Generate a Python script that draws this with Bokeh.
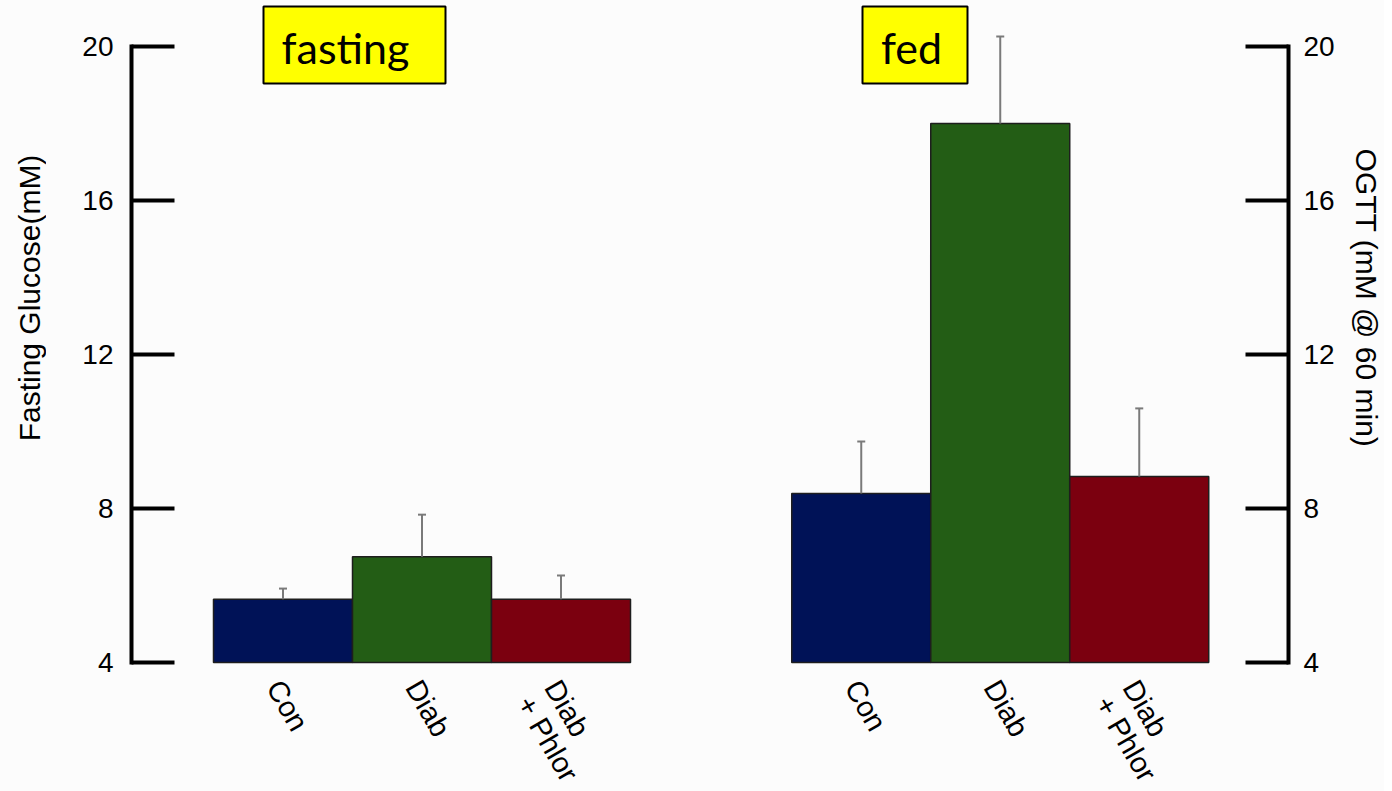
import math
from bokeh.plotting import figure
from bokeh.layouts import row
from bokeh.models import Range1d, LinearAxis, FixedTicker, Whisker, TeeHead, ColumnDataSource
from bokeh.core.properties import value
from bokeh.embed import file_html
from bokeh.resources import INLINE

# ---------------- data ----------------
categories = ["Con", "Diab", "Diab\n+ Phlor"]
bar_colors = ["#001257", "#235d15", "#7b000f"]
fasting_mean = [5.64, 6.75, 5.64]
fasting_err = [0.28, 1.09, 0.62]
fed_mean = [8.39, 18.0, 8.83]
fed_err = [1.35, 2.26, 1.77]
y_ticks = [4, 8, 12, 16, 20]
panel_titles = ["fasting", "fed"]
left_label = "Fasting Glucose(mM)"
right_label = "OGTT (mM @ 60 min)"

# ---------------- layout ----------------
TOTAL_W, H = 1384, 791
LEFT_W, RIGHT_W = 46, 44
MAIN_W = TOTAL_W - LEFT_W - RIGHT_W
FRAME_L, FRAME_R = 131, 1288          # page x of the two y axes
PX_PER_Y = 38.5
BAR_PX = 139.0
TICK20_Y = 46
TICK4_Y = 662
y_top = 20 + TICK20_Y / PX_PER_Y
y_bot = 4 - (H - TICK4_Y) / PX_PER_Y
x_start = 1 - (282.5 - FRAME_L) / BAR_PX
x_end = x_start + (FRAME_R - FRAME_L) / BAR_PX

def sx(px):
    return 1 + (px - 282.5) / BAR_PX

def sy(py):
    return 20 - (py - TICK20_Y) / PX_PER_Y

fasting_x = [1, 2, 3]
fed_x = [5.16, 6.16, 7.16]

bg = "#fcfcfc"
font = "Liberation Sans"

def side_fig(width, label, page_x0, cx, angle):
    f = figure(width=width, height=H, x_range=Range1d(page_x0, page_x0 + width),
               y_range=Range1d(H, 0), output_backend="svg", toolbar_location=None,
               x_axis_location=None, y_axis_location=None,
               min_border_left=0, min_border_right=0, min_border_top=0, min_border_bottom=0)
    f.background_fill_color = bg
    f.border_fill_color = bg
    f.outline_line_color = None
    f.grid.visible = False
    f.text(x=[cx], y=[297.5], text=[label], angle=angle, text_align="center",
           text_baseline="middle", text_font=value(font), text_font_size="30px",
           text_color="black")
    return f

p = figure(width=MAIN_W, height=H, x_range=Range1d(x_start, x_end), y_range=Range1d(y_bot, y_top),
           output_backend="svg", toolbar_location=None,
           x_axis_location=None, y_axis_location=None,
           min_border_left=FRAME_L - LEFT_W, min_border_right=LEFT_W + MAIN_W - FRAME_R,
           min_border_top=0, min_border_bottom=0)
p.background_fill_color = bg
p.border_fill_color = bg
p.outline_line_color = None
p.grid.visible = False

src = ColumnDataSource(dict(
    x=fasting_x + fed_x,
    top=fasting_mean + fed_mean,
    upper=[m + e for m, e in zip(fasting_mean + fed_mean, fasting_err + fed_err)],
    color=bar_colors + bar_colors,
    label=categories + categories,
))

p.add_layout(Whisker(source=src, base="x", lower="top", upper="upper",
                     line_color="#7a7a7a", line_width=2,
                     upper_head=TeeHead(size=8, line_color="#7a7a7a", line_width=2),
                     lower_head=None, level="glyph"))
p.vbar(x="x", top="top", bottom=4, width=1, source=src, fill_color="color",
       line_color="#1e1e1e", line_width=1.5)

# category labels
label_y = 4 - 12 / PX_PER_Y
p.text(x="x", y=label_y, text="label", source=src, angle=-math.pi / 3,
       text_align="left", text_baseline="top", x_offset=5,
       text_font=value(font), text_font_size="29px", text_color="black",
       text_line_height=1.0)

# title boxes
box_y = sy(44.5)
p.rect(x=[sx(354)], y=[box_y], width=182, height=77,
       width_units="screen", height_units="screen",
       fill_color="#ffff00", line_color="black", line_width=2)
p.rect(x=[sx(914.5)], y=[box_y], width=105, height=77,
       width_units="screen", height_units="screen",
       fill_color="#ffff00", line_color="black", line_width=2)
p.text(x=[sx(345), sx(911)], y=[sy(47)] * 2,
       text=panel_titles, text_align="center", text_baseline="middle",
       text_font=value("Lato"), text_font_size="43px", text_color="black")

def make_axis(standoff):
    return LinearAxis(ticker=FixedTicker(ticks=y_ticks), bounds=(4, 20),
                      major_tick_in=43, major_tick_out=0, minor_tick_in=0, minor_tick_out=0,
                      axis_line_width=4, axis_line_color="black", axis_line_cap="square",
                      major_tick_line_width=4, major_tick_line_color="black",
                      major_label_standoff=standoff,
                      major_label_text_font=font, major_label_text_font_size="28px",
                      major_label_text_color="black")

p.add_layout(make_axis(18), "left")
p.add_layout(make_axis(15), "right")

left_fig = side_fig(LEFT_W, left_label, 0, 28.5, math.pi / 2)
right_fig = side_fig(RIGHT_W, right_label, LEFT_W + MAIN_W, 1366, -math.pi / 2)

layout = row(left_fig, p, right_fig, spacing=0)
layout.styles = {"background-color": bg}

open("out.html", "w").write(file_html(layout, INLINE))
